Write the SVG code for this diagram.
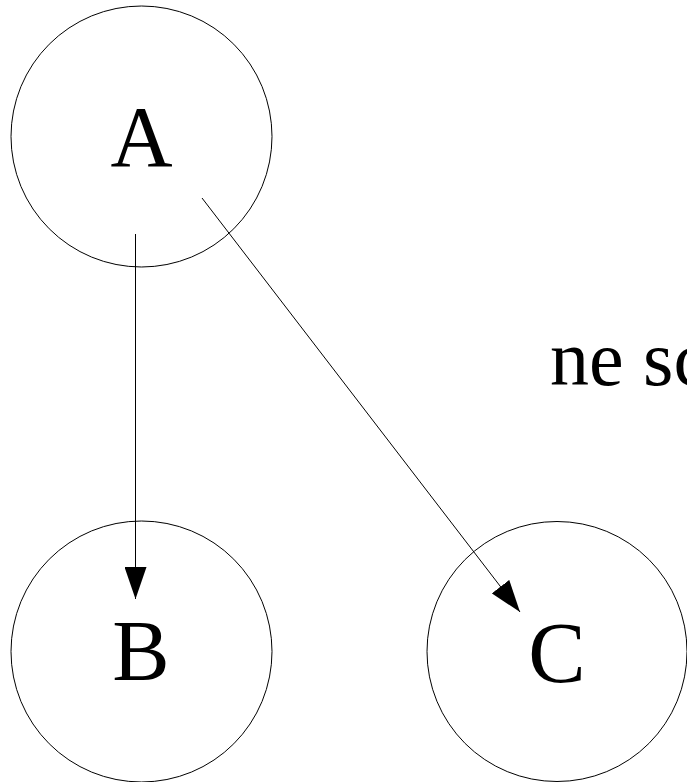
<svg xmlns="http://www.w3.org/2000/svg" width="687" height="782" viewBox="0 0 687 782">
<style>
.node circle{fill:#fff;stroke:#000;stroke-width:1}
.node text,.lbl{font-family:"Liberation Serif","Times New Roman",serif;fill:#000;text-anchor:middle}
.node text{font-size:86px}
.edge{stroke:#000;stroke-width:1;fill:none}
</style>
<defs>
<marker id="arr" markerUnits="userSpaceOnUse" markerWidth="32" markerHeight="22" refX="32" refY="11" orient="auto">
<path d="M0,0 L32,11 L0,22 z" fill="#000"/>
</marker>
</defs>
<rect width="687" height="782" fill="#fff"/>
<g id="node-A" class="node"><circle cx="141.5" cy="136.5" r="130.5"/><text x="141.5" y="166">A</text></g>
<g id="node-B" class="node"><circle cx="141.5" cy="651.5" r="130.5"/><text x="141" y="680">B</text></g>
<g id="node-C" class="node"><circle cx="557" cy="651.5" r="130"/><text x="557" y="682">C</text></g>
<g id="connectors">
<line class="edge" x1="135.5" y1="234" x2="135.5" y2="599" marker-end="url(#arr)"/>
<line class="edge" x1="202" y1="198" x2="520" y2="612" marker-end="url(#arr)"/>
</g>
<text class="lbl" x="550" y="385" style="text-anchor:start;font-size:78px">ne sc</text>
</svg>
